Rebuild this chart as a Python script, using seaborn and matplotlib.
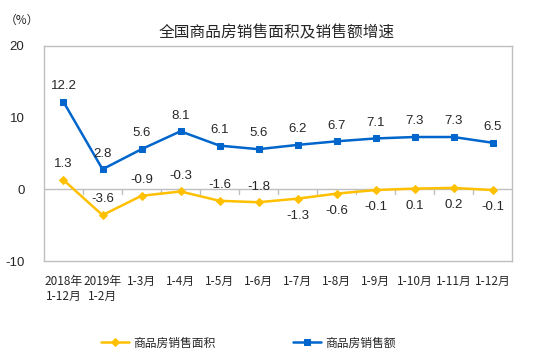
import matplotlib
matplotlib.use("Agg")
import matplotlib.pyplot as plt
import pandas as pd
import seaborn as sns

categories = ["2018年\n1-12月", "2019年\n1-2月", "1-3月", "1-4月", "1-5月", "1-6月",
              "1-7月", "1-8月", "1-9月", "1-10月", "1-11月", "1-12月"]
area_growth = [1.3, -3.6, -0.9, -0.3, -1.6, -1.8, -1.3, -0.6, -0.1, 0.1, 0.2, -0.1]
sales_growth = [12.2, 2.8, 5.6, 8.1, 6.1, 5.6, 6.2, 6.7, 7.1, 7.3, 7.3, 6.5]
# which area labels sit above the point (True) or below it (False)
area_label_above = [True] * 6 + [False] * 6

sns.set_style("white")
plt.rcParams["font.family"] = ["Noto Sans CJK SC", "DejaVu Sans"]

YELLOW = "#FFC000"
BLUE = "#0066CC"
GRID = "#BFBFBF"

df = pd.DataFrame({"x": range(len(categories)), "area": area_growth, "sales": sales_growth})

fig = plt.figure(figsize=(5.34, 3.64), dpi=100)
ax = fig.add_axes([44 / 534, 1 - 261 / 364, 468 / 534, 215 / 364])

sns.lineplot(data=df, x="x", y="area", ax=ax, color=YELLOW, marker="D", markersize=4,
             markeredgecolor=YELLOW, linewidth=1.8, label="商品房销售面积")
sns.lineplot(data=df, x="x", y="sales", ax=ax, color=BLUE, marker="s", markersize=4.5,
             markeredgecolor=BLUE, linewidth=1.8, label="商品房销售额")

for i, v in enumerate(sales_growth):
    ax.annotate(f"{v}", (i, v), xytext=(0, 7), textcoords="offset points",
                ha="center", va="bottom", fontsize=9.5, family="Liberation Sans")
for i, v in enumerate(area_growth):
    above = area_label_above[i]
    ax.annotate(f"{v}", (i, v), xytext=(0, 7 if above else -8), textcoords="offset points",
                ha="center", va="bottom" if above else "top", fontsize=9.5,
                family="Liberation Sans")

ax.set_xlim(-0.5, len(categories) - 0.5)
ax.set_ylim(-10, 20)
ax.set_yticks([-10, 0, 10, 20])
ax.set_yticklabels(["-10", "0", "10", "20"], fontsize=9.5, family="Liberation Sans")
ax.set_xticks([])
ax.set_xlabel("")
ax.set_ylabel("")

for s in ax.spines.values():
    s.set_color(GRID)
    s.set_linewidth(1)
ax.tick_params(axis="y", length=4, color=GRID, pad=10)

# zero line with small downward ticks between categories
ax.axhline(0, color=GRID, linewidth=1, zorder=0)
for b in range(1, len(categories)):
    ax.plot([b - 0.5, b - 0.5], [0, -0.6], color=GRID, linewidth=1, zorder=0)

for i, c in enumerate(categories):
    ax.text(i, -12.0, c, ha="center", va="top", fontsize=8.5, linespacing=1.2,
            transform=ax.transData, clip_on=False)

fig.text(0.519, 1 - 33 / 364, "全国商品房销售面积及销售额增速", ha="center", va="center", fontsize=11.3)
fig.text(22 / 534, 1 - 20 / 364, "（%）", ha="center", va="center", fontsize=8.5)

ax.legend(loc="center left", bbox_to_anchor=(101 / 534, 1 - 343 / 364),
          bbox_transform=fig.transFigure, ncol=2, frameon=False,
          fontsize=8.5, handlelength=2.4, handletextpad=0.3, columnspacing=6.6,
          borderpad=0, borderaxespad=0)

fig.savefig("out.png", dpi=100)
